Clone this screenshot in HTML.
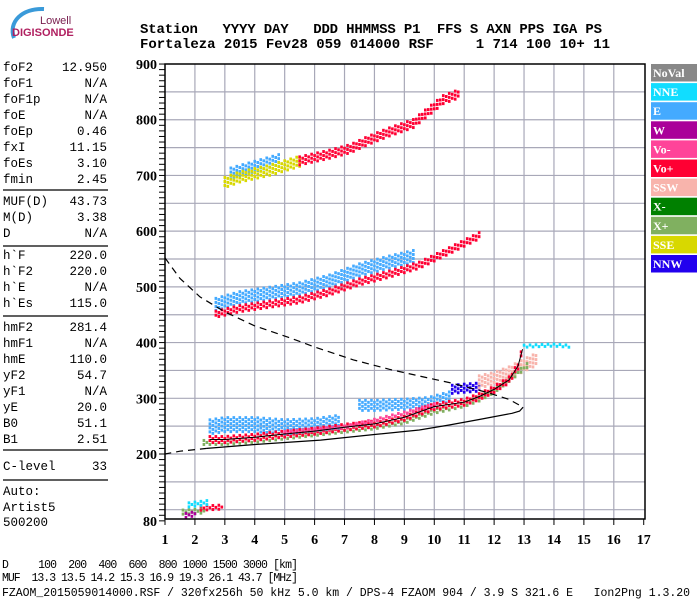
<!DOCTYPE html>
<html><head><meta charset="utf-8"><style>
body{margin:0;background:#fff;width:700px;height:600px;overflow:hidden}
svg{display:block}
.mono{font-family:"Liberation Mono",monospace}
.hdr{font-family:"Liberation Mono",monospace;font-weight:bold;font-size:14px}
.tick{font-family:"Liberation Serif",serif;font-weight:bold;font-size:14px}
.leg{font-family:"Liberation Serif",serif;font-weight:bold;font-size:12px;fill:#fff}
</style></head><body>
<svg id="chart" width="700" height="600" viewBox="0 0 700 600">
<g>
<path d="M14,38 C8,22 22,8 44,9" stroke="#3a9ad9" stroke-width="4" fill="none"/>
<text x="40" y="24" font-family="Liberation Sans,sans-serif" font-size="11" fill="#7a2050">Lowell</text>
<text x="12" y="36" font-family="Liberation Sans,sans-serif" font-size="11" fill="#b02060" font-weight="bold">DIGISONDE</text>
</g>
<g>
<text class="hdr" x="140" y="33" xml:space="preserve" textLength="462">Station   YYYY DAY   DDD HHMMSS P1  FFS S AXN PPS IGA PS</text>
<text class="hdr" x="140" y="48" xml:space="preserve" textLength="470">Fortaleza 2015 Fev28 059 014000 RSF     1 714 100 10+ 11</text>
</g>
<g id="params"></g>
<g id="grid"></g>
<g id="marks"></g>
<g id="axes"></g>
<g id="legend"></g>
<g class="mono" font-size="11.5">
<text x="2" y="568" xml:space="preserve" textLength="296">D     100  200  400  600  800 1000 1500 3000 [km]</text>
<text x="2" y="581" xml:space="preserve" textLength="296">MUF  13.3 13.5 14.2 15.3 16.9 19.3 26.1 43.7 [MHz]</text>
<text x="2" y="596" xml:space="preserve" textLength="688">FZAOM_2015059014000.RSF / 320fx256h 50 kHz 5.0 km / DPS-4 FZAOM 904 / 3.9 S 321.6 E   Ion2Png 1.3.20</text>
</g>
</svg>
<script>
const paramNames=["foF2","foF1","foF1p","foE","foEp","fxI","foEs","fmin","MUF(D)","M(D)","D","h`F","h`F2","h`E","h`Es","hmF2","hmF1","hmE","yF2","yF1","yE","B0","B1","C-level"];
const paramValues=["12.950","N/A","N/A","N/A","0.46","11.15","3.10","2.45","43.73","3.38","N/A","220.0","220.0","N/A","115.0","281.4","N/A","110.0","54.7","N/A","20.0","51.1","2.51","33"];
const xTicks=[1,2,3,4,5,6,7,8,9,10,11,12,13,14,15,16,17];
const yTicks=[80,200,300,400,500,600,700,800,900];
const legendNames=["NoVal","NNE","E","W","Vo-","Vo+","SSW","X-","X+","SSE","NNW"];
const legendColors=["#888888","#11ddff","#44aaff","#aa0099","#ff4499","#ff0033","#f8b4ac","#008000","#80b060","#d8d800","#2200ee"];
// trace data (freq MHz, height km)
const eBlueF=[2.5,3,4,5,6,6.8], eBlueH=[250,254,254,250,252,258];
const e2BlueF=[7.5,8,9,9.8,10.5], e2BlueH=[290,290,292,295,305];
const nnwF=[10.6,11,11.5], nnwH=[318,320,322];
const sswF=[11.5,12,12.5,13,13.4], sswH=[332,338,348,362,372];
const nneF=[13,13.5,14,14.5], nneH=[395,396,397,395];
const xpF=[2.3,3,4,5,6,7,8,9,10,11,11.5,12,12.5,13.1], xpH=[222,222,226,232,238,244,250,260,278,290,300,315,335,360];
const vopF=[2.5,3,4,5,6,7,8,9,10,11,11.5,12,12.5,12.8,12.95], vopH=[228,228,232,238,243,250,256,268,287,295,305,318,335,360,390];
const vomF=[5,6,7,8,9,10], vomH=[240,245,250,262,275,290];
const h2BlueF=[2.7,3.5,4.5,5.5,6.5,7.5,8.5,9.3], h2BlueH=[470,482,490,498,512,532,546,556];
const h2RedF=[2.7,3.5,4.5,5.5,6.5,7.5,8.5,9.5,10.5,11.5], h2RedH=[452,462,470,478,492,510,524,540,566,593];
const h3YelF=[3,3.5,4.5,5,5.5], h3YelH=[690,700,712,720,728];
const h3BlueF=[3.2,4,4.8], h3BlueH=[706,718,730];
const h3RedF=[5.5,6.5,7.2,7.8,8.5,9.3,10.3,10.8], h3RedH=[728,740,750,765,780,795,838,848];
const esRedF=[2.2,2.9], esRedH=[104,106];
const esMagF=[1.7,2.0], esMagH=[92,95];
const esCyanF=[1.8,2.4], esCyanH=[110,114];
const esGreenF=[1.6,2.3], esGreenH=[98,100];
const profF=[1,1.5,2.17,3,4,5.2,6,7.3,8.5,9.5,10.6,11.8,12.5,12.97];
const profH=[552,515,482,455,430,408,392,369,352,340,327,310,298,284];
const profLowF=[12.97,12.85,12.6,11.5,10.5,9.5,8,6.2,4,2.4];
const profLowH=[284,277,273,262,252,243,235,225,217,210];
const profTailF=[2.4,1.5,1];
const profTailH=[210,205,200];

const NS="http://www.w3.org/2000/svg";
function X(f){return 165+(f-1)*29.92;}
function Y(h){return 454-(h-200)*0.5571;}
function mk(tag,parent,attrs){const e=document.createElementNS(NS,tag);for(const k in attrs)e.setAttribute(k,attrs[k]);parent.appendChild(e);return e;}

// parameter panel
const P=document.getElementById('params');
const rowCenters=[67,83,99,115,131,147,163,179, 201,217,233, 255,271,287,303, 327,343,359,375,391,407,423,439, 466];
for(let i=0;i<paramNames.length;i++){
 const t=mk('text',P,{x:3,y:rowCenters[i]+4,class:'mono','font-size':'12.5'});t.textContent=paramNames[i];
 
 
 const v=mk('text',P,{x:107,y:rowCenters[i]+4,class:'mono','font-size':'12.5','text-anchor':'end'});v.textContent=paramValues[i];
 
 
}
[190,246,316,450,480].forEach(y=>{mk('line',P,{x1:3,x2:108,y1:y,y2:y,stroke:'#000','stroke-width':1.3});});
[["Auto:",491],["Artist5",507],["500200",522]].forEach(a=>{const t=mk('text',P,{x:3,y:a[1]+4,class:'mono','font-size':'12.5'});t.textContent=a[0];});

// grid
const G=document.getElementById('grid');
for(let f=2;f<=16;f++)mk('line',G,{x1:X(f),x2:X(f),y1:64,y2:519,stroke:'#a8a8b8','stroke-width':1.2});
for(let h=100;h<=850;h+=50)mk('line',G,{x1:165,x2:645,y1:Y(h),y2:Y(h),stroke:'#a8a8b8','stroke-width':1.2});

// marks
const M=document.getElementById('marks');
function interp(fs,hs,f){for(let i=0;i<fs.length-1;i++){if(f>=fs[i]&&f<=fs[i+1]){return hs[i]+(hs[i+1]-hs[i])*(f-fs[i])/(fs[i+1]-fs[i]);}}return hs[hs.length-1];}
function band(fs,hs,thick,color,name){
 const g=mk('g',M,{});
 
 
 const step=0.1;let k=0;
 for(let f=fs[0];f<=fs[fs.length-1]+1e-9;f+=step,k++){
  const h=interp(fs,hs,f);
  const top=Y(h+thick/2),hh=thick*0.5571;
  // speckled column
  for(let y=top+(k%2)*2;y<top+hh;y+=4){
   mk('rect',g,{x:X(f)-1.3,y:y,width:2.6,height:3,fill:color});
  }
 }
}
band(eBlueF,eBlueH,28,'#44aaff','e-trace-low');
band(e2BlueF,e2BlueH,18,'#44aaff','e-trace-mid');
band(nnwF,nnwH,16,'#2200ee','nnw-trace');
band(sswF,sswH,22,'#f8b4ac','ssw-trace');
band(nneF,nneH,6,'#11ddff','nne-trace');
band(xpF,xpH,10,'#80b060','x-plus-trace');
band(vopF,vopH,12,'#ff0033','o-plus-trace');
band(vomF,vomH,6,'#ff4499','o-minus-trace');
band(h2BlueF,h2BlueH,24,'#44aaff','second-hop-e');
band(h2RedF,h2RedH,14,'#ff0033','second-hop-o');
band(h3BlueF,h3BlueH,20,'#44aaff','third-hop-e');
band(h3YelF,h3YelH,18,'#d8d800','third-hop-sse');
band(h3RedF,h3RedH,16,'#ff0033','third-hop-o');
band(esGreenF,esGreenH,8,'#80b060','es-green');
band(esRedF,esRedH,10,'#ff0033','es-red');
band(esMagF,esMagH,8,'#aa0099','es-magenta');
band(esCyanF,esCyanH,10,'#11ddff','es-cyan');
// O trace profile line
let d='';vopF.forEach((f,i)=>{d+=(i?'L':'M')+X(f)+','+Y(vopH[i]-2);});
const tl=mk('path',M,{d:d,stroke:'#000','stroke-width':1,fill:'none'});


function poly(fs,hs,dash,name){let d='';fs.forEach((f,i)=>{d+=(i?'L':'M')+X(f).toFixed(1)+','+Y(hs[i]).toFixed(1);});
 const p=mk('path',M,{d:d,stroke:'#000','stroke-width':1.2,fill:'none'});if(dash)p.setAttribute('stroke-dasharray','7,5');
 
 }
poly(profF,profH,true,'profile-upper-dashed');
poly(profLowF,profLowH,false,'profile-lower-solid');
poly(profTailF,profTailH,true,'profile-tail-dashed');

// axes
const A=document.getElementById('axes');
mk('rect',A,{x:165,y:64,width:480,height:455,fill:'none',stroke:'#000','stroke-width':1.5});
for(let h=80;h<=900;h+=10)mk('line',A,{x1:159,x2:165,y1:Y(h),y2:Y(h),stroke:'#000'});
xTicks.forEach(f=>{mk('line',A,{x1:X(f),x2:X(f),y1:519,y2:525,stroke:'#000'});
 const t=mk('text',A,{x:X(f),y:544,class:'tick','text-anchor':'middle'});t.textContent=f;
 
 });
yTicks.forEach(h=>{const t=mk('text',A,{x:157,y:Y(h)+5,class:'tick','text-anchor':'end'});t.textContent=h;
 
 });

// legend
const L=document.getElementById('legend');
legendNames.forEach((n,i)=>{const y=64+i*19.1;
 const r=mk('rect',L,{x:651,y:y,width:46,height:17.5,fill:legendColors[i]});
 
 
 const t=mk('text',L,{x:653,y:y+13,class:'leg'});t.textContent=n;});
</script>
</body></html>
